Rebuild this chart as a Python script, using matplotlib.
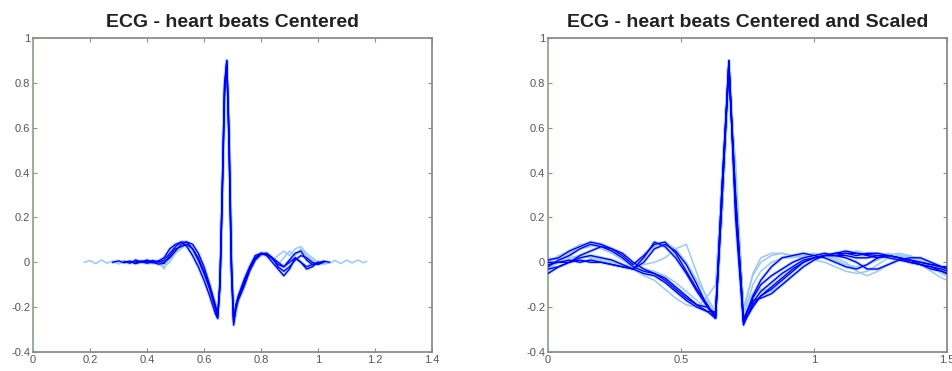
import numpy as np
import matplotlib
matplotlib.use("Agg")
import matplotlib.pyplot as plt

nan = np.nan

# ---------------- Left panel data ----------------
x_left = [0.18, 0.20, 0.22, 0.24, 0.26, 0.28, 0.30,
          0.32, 0.34, 0.36, 0.38, 0.40, 0.42, 0.44, 0.46, 0.48, 0.50, 0.52, 0.54, 0.56, 0.58, 0.60,
          0.62, 0.64,
          0.648, 0.656, 0.664, 0.672, 0.680, 0.688, 0.696, 0.704, 0.712, 0.72,
          0.74, 0.76, 0.78, 0.80, 0.82, 0.84, 0.86, 0.88, 0.90, 0.92, 0.94, 0.96, 0.98, 1.00,
          1.02, 1.04, 1.06, 1.08, 1.10, 1.12, 1.14, 1.16, 1.17]

left_beat_1 = [0.0, 0.008, -0.006, 0.01, -0.004, 0.006, -0.008,
               0.004, -0.005, 0.008, -0.003, 0.006, -0.006, 0.004, -0.03, 0.02, 0.05, 0.08, 0.07, 0.05, 0.0, -0.06,
               -0.13, -0.21,
               -0.24, -0.12, 0.28, 0.72, 0.88, 0.60, 0.05, -0.25, -0.20, -0.15,
               -0.09, -0.03, 0.02, 0.035, 0.03, 0.01, -0.01, 0.02, 0.05, 0.03, 0.06, 0.03, 0.01, 0.0,
               0.006, -0.004, 0.008, -0.006, 0.01, -0.003, 0.01, -0.002, 0.004]
left_beat_2 = [nan, nan, nan, nan, nan, nan, nan,
               0.0, 0.005, -0.004, 0.006, 0.0, 0.008, 0.0, 0.01, 0.04, 0.07, 0.09, 0.09, 0.06, 0.02, -0.04,
               -0.11, -0.20,
               -0.25, -0.10, 0.30, 0.76, 0.90, 0.55, 0.0, -0.27, -0.20, -0.16,
               -0.10, -0.03, 0.02, 0.04, 0.04, 0.02, -0.02, -0.04, -0.02, 0.01, 0.03, 0.02, 0.0, -0.01,
               0.0, nan, nan, nan, nan, nan, nan, nan, nan]
left_beat_3 = [nan, nan, nan, nan, nan, nan, nan,
               nan, nan, 0.004, 0.0, 0.006, -0.002, 0.004, 0.0, 0.02, 0.05, 0.08, 0.09, 0.08, 0.04, -0.02,
               -0.10, -0.19,
               -0.23, -0.08, 0.32, 0.78, 0.89, 0.50, -0.02, -0.26, -0.19, -0.15,
               -0.08, -0.02, 0.03, 0.04, 0.03, 0.0, -0.03, -0.06, -0.03, 0.02, 0.0, -0.03, -0.02, 0.0,
               nan, nan, nan, nan, nan, nan, nan, nan, nan]
left_beat_4 = [nan, nan, nan, nan, nan, nan, nan,
               nan, nan, nan, nan, 0.0, 0.008, -0.01, -0.02, 0.0, 0.04, 0.06, 0.08, 0.07, 0.03, -0.05,
               -0.12, -0.20,
               -0.22, -0.14, 0.20, 0.65, 0.86, 0.70, 0.20, -0.20, -0.24, -0.18,
               -0.10, -0.04, 0.01, 0.03, 0.03, 0.01, 0.03, 0.05, 0.03, 0.06, 0.07, 0.04, 0.02, 0.0,
               -0.01, 0.0, nan, nan, nan, nan, nan, nan, nan]
left_beat_5 = [nan, nan, nan, nan, nan, nan, nan,
               0.004, -0.004, 0.01, 0.002, 0.01, 0.002, 0.006, 0.02, 0.06, 0.08, 0.09, 0.07, 0.03, -0.02, -0.08,
               -0.15, -0.23,
               -0.25, -0.10, 0.33, 0.80, 0.90, 0.52, -0.04, -0.28, -0.21, -0.17,
               -0.11, -0.04, 0.01, 0.035, 0.04, 0.02, 0.0, -0.02, 0.0, 0.02, 0.0, -0.02, -0.01, 0.0,
               0.0, nan, nan, nan, nan, nan, nan, nan, nan]
left_beat_6 = [nan, nan, nan, nan, nan, 0.0, 0.006,
               -0.002, 0.004, -0.006, 0.002, -0.004, 0.0, -0.008, -0.005, 0.03, 0.06, 0.07, 0.08, 0.06, 0.01, -0.05,
               -0.12, -0.21,
               -0.24, -0.11, 0.29, 0.74, 0.88, 0.58, 0.02, -0.26, -0.19, -0.16,
               -0.09, -0.03, 0.02, 0.04, 0.035, 0.015, -0.01, -0.02, 0.01, 0.04, 0.05, 0.01, -0.01, -0.005,
               0.005, 0.0, nan, nan, nan, nan, nan, nan, nan]

left_beats = [left_beat_1, left_beat_2, left_beat_3, left_beat_4, left_beat_5, left_beat_6]
left_light = [True, False, False, True, False, False]

# ---------------- Right panel data ----------------
x_right = [0.00, 0.04, 0.08, 0.12, 0.16, 0.20, 0.24, 0.28, 0.32, 0.36, 0.40, 0.44, 0.48, 0.52, 0.56,
           0.60, 0.63, 0.655, 0.68, 0.705, 0.735, 0.77, 0.80, 0.84, 0.88, 0.92, 0.96, 1.00, 1.04,
           1.08, 1.12, 1.16, 1.20, 1.24, 1.28, 1.32, 1.36, 1.40, 1.44, 1.48, 1.50]

right_beat_1 = [-0.02, 0.01, 0.03, 0.06, 0.08, 0.07, 0.05, 0.02, -0.02, -0.04, -0.05, -0.07, -0.11, -0.15, -0.19,
                -0.22, -0.25, 0.30, 0.89, 0.30, -0.27, -0.20, -0.15, -0.12, -0.08, -0.04, 0.0, 0.02, 0.03,
                0.03, 0.04, 0.04, 0.035, 0.03, 0.03, 0.02, 0.0, -0.01, -0.02, -0.03, -0.04]
right_beat_2 = [0.0, 0.0, 0.01, 0.0, 0.01, 0.0, -0.01, -0.02, -0.03, 0.02, 0.09, 0.07, 0.02, -0.05, -0.13,
                -0.20, -0.24, 0.35, 0.88, 0.25, -0.26, -0.15, -0.08, -0.02, 0.02, 0.03, 0.04, 0.03, 0.02,
                0.0, -0.02, -0.03, -0.01, 0.02, 0.03, 0.02, 0.01, 0.0, -0.01, -0.02, -0.03]
right_beat_3 = [-0.04, -0.02, 0.0, 0.02, 0.03, 0.02, 0.0, -0.01, -0.02, -0.01, 0.0, 0.02, 0.06, 0.08, -0.05,
                -0.17, -0.24, 0.20, 0.85, 0.35, -0.22, -0.05, 0.02, 0.04, 0.04, 0.03, 0.03, 0.02, 0.04,
                0.02, 0.0, -0.04, -0.06, -0.04, -0.01, 0.02, 0.03, 0.01, -0.02, -0.05, -0.06]
right_beat_4 = [0.01, 0.02, 0.05, 0.07, 0.09, 0.08, 0.06, 0.03, -0.01, 0.03, 0.08, 0.09, 0.04, -0.04, -0.12,
                -0.19, -0.25, 0.35, 0.90, 0.20, -0.28, -0.18, -0.13, -0.09, -0.05, -0.02, 0.01, 0.02, 0.03,
                0.04, 0.04, 0.03, 0.04, 0.04, 0.03, 0.02, 0.01, 0.0, -0.01, -0.02, -0.02]
right_beat_5 = [-0.03, 0.0, 0.04, 0.06, 0.07, 0.08, 0.06, 0.02, -0.03, -0.06, -0.08, -0.12, -0.16, -0.19, -0.20,
                -0.15, -0.10, 0.40, 0.82, 0.40, -0.20, -0.14, -0.12, -0.13, -0.10, -0.06, -0.02, 0.01, 0.03,
                0.02, 0.04, 0.05, 0.04, 0.03, 0.04, 0.03, 0.02, 0.0, -0.02, -0.05, -0.06]
right_beat_6 = [-0.01, 0.0, 0.0, 0.01, 0.0, 0.0, -0.01, -0.02, -0.03, 0.0, 0.06, 0.08, 0.05, -0.01, -0.10,
                -0.20, -0.23, 0.30, 0.87, 0.28, -0.25, -0.17, -0.16, -0.14, -0.10, -0.06, -0.02, 0.01, 0.03,
                0.03, 0.02, 0.0, -0.03, -0.03, -0.01, 0.01, 0.02, 0.02, 0.0, -0.02, -0.03]
right_beat_7 = [0.0, 0.03, 0.05, 0.08, 0.08, 0.06, 0.04, 0.01, -0.02, -0.03, -0.04, -0.06, -0.09, -0.13, -0.17,
                -0.21, -0.24, 0.25, 0.80, 0.45, -0.24, -0.10, -0.04, 0.0, 0.02, 0.02, 0.03, 0.04, 0.03,
                0.01, -0.01, -0.02, -0.01, 0.01, 0.03, 0.04, 0.02, -0.01, -0.04, -0.07, -0.08]
right_beat_8 = [-0.03, -0.02, 0.0, 0.02, 0.03, 0.02, 0.01, -0.01, -0.03, -0.05, -0.06, -0.09, -0.13, -0.17, -0.20,
                -0.22, -0.22, 0.35, 0.86, 0.30, -0.26, -0.16, -0.10, -0.06, -0.03, 0.0, 0.02, 0.03, 0.04,
                0.03, 0.03, 0.02, 0.02, 0.03, 0.02, 0.01, 0.0, -0.01, -0.03, -0.04, -0.05]
right_beat_9 = [0.02, 0.01, 0.02, 0.03, 0.02, 0.01, -0.01, -0.02, -0.02, 0.03, 0.07, 0.09, 0.06, 0.0, -0.08,
                -0.16, -0.22, 0.40, 0.88, 0.40, -0.20, -0.06, 0.0, 0.03, 0.04, 0.03, 0.02, 0.01, 0.0,
                -0.02, -0.04, -0.05, -0.04, -0.01, 0.02, 0.04, 0.03, 0.01, -0.01, -0.03, -0.04]
right_beat_10 = [-0.05, -0.02, 0.0, 0.03, 0.05, 0.07, 0.06, 0.04, 0.0, -0.03, -0.05, -0.08, -0.12, -0.16, -0.19,
                 -0.20, -0.25, 0.30, 0.90, 0.25, -0.27, -0.19, -0.15, -0.11, -0.07, -0.03, 0.0, 0.02, 0.03,
                 0.04, 0.05, 0.04, 0.03, 0.02, 0.03, 0.02, 0.01, -0.01, -0.02, -0.04, -0.05]

right_beats = [right_beat_1, right_beat_2, right_beat_3, right_beat_4, right_beat_5,
               right_beat_6, right_beat_7, right_beat_8, right_beat_9, right_beat_10]
right_light = [False, False, True, False, True, False, True, False, True, False]

titles = ["ECG - heart beats Centered", "ECG - heart beats Centered and Scaled"]
left_xticks = [0, 0.2, 0.4, 0.6, 0.8, 1.0, 1.2, 1.4]
left_xticklabels = ["0", "0.2", "0.4", "0.6", "0.8", "1", "1.2", "1.4"]
right_xticks = [0, 0.5, 1.0, 1.5]
right_xticklabels = ["0", "0.5", "1", "1.5"]
yticks = [-0.4, -0.2, 0, 0.2, 0.4, 0.6, 0.8, 1.0]
yticklabels = ["-0.4", "-0.2", "0", "0.2", "0.4", "0.6", "0.8", "1"]

for lst in left_beats:
    assert len(lst) == len(x_left), len(lst)
for lst in right_beats:
    assert len(lst) == len(x_right), len(lst)

plt.rcParams['font.family'] = ['Liberation Sans', 'DejaVu Sans']

BLUE = "#0000ff"
LIGHT = "#9cc8f4"
HALO = "#b8d8f8"
SPINE = "#8c8c8c"

fig = plt.figure(figsize=(9.53, 3.71), dpi=100)
ax1 = fig.add_axes([33 / 953, 19 / 371, 399 / 953, 314 / 371])
ax2 = fig.add_axes([548 / 953, 19 / 371, 399 / 953, 314 / 371])


def draw(ax, xs, beats, light_flags):
    for ys, lt in zip(beats, light_flags):
        if lt:
            ax.plot(xs, ys, color=LIGHT, lw=1.1, zorder=2)
    for ys, lt in zip(beats, light_flags):
        if not lt:
            ax.plot(xs, ys, color=HALO, lw=2.4, zorder=1)
            ax.plot(xs, ys, color=BLUE, lw=1.0, zorder=3)


draw(ax1, x_left, left_beats, left_light)
draw(ax2, x_right, right_beats, right_light)

for ax, title, xt, xtl, xlim in [
        (ax1, titles[0], left_xticks, left_xticklabels, (0, 1.4)),
        (ax2, titles[1], right_xticks, right_xticklabels, (0, 1.5))]:
    ax.set_xlim(*xlim)
    ax.set_ylim(-0.4, 1.0)
    ax.set_xticks(xt)
    ax.set_xticklabels(xtl)
    ax.set_yticks(yticks)
    ax.set_yticklabels(yticklabels)
    ax.tick_params(direction="in", length=3, width=0.8, colors=SPINE,
                   labelcolor="#555555", labelsize=8, top=True, right=True, pad=2)
    for s in ax.spines.values():
        s.set_color(SPINE)
        s.set_linewidth(1.3)
    ax.spines["left"].set_color("#8fa88f")
    ax.set_title(title, fontsize=14, fontweight="bold", color="#222222", pad=8)

fig.savefig("out.png", dpi=100)
